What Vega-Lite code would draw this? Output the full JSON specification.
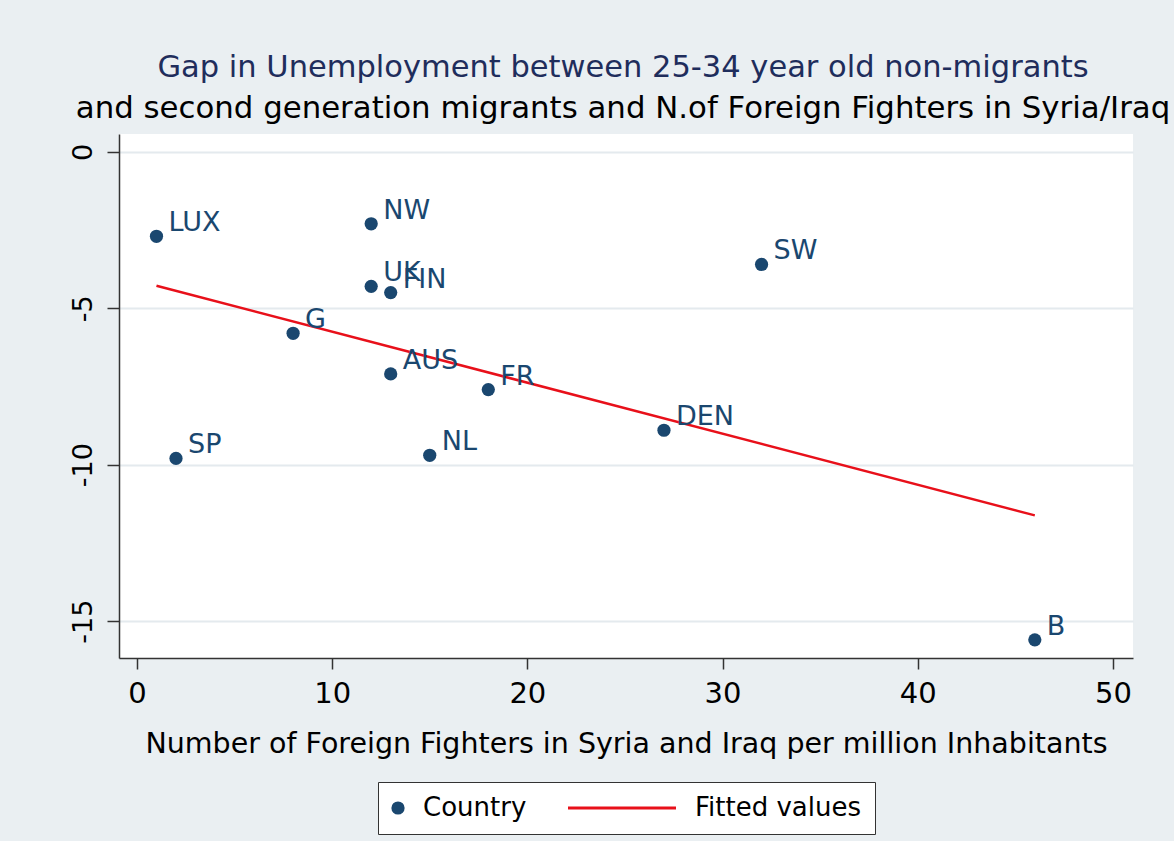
{
  "$schema": "https://vega.github.io/schema/vega-lite/v6.json",
  "width": 1014,
  "height": 524,
  "autosize": {"type": "none"},
  "padding": {"left": 119, "top": 134, "right": 41, "bottom": 183},
  "background": "#eaeff2",
  "title": {
    "text": "Gap in Unemployment between 25-34 year old non-migrants",
    "subtitle": "and second generation migrants and N.of Foreign Fighters in Syria/Iraq",
    "anchor": "middle",
    "frame": "group",
    "font": "DejaVu Sans",
    "fontSize": 30.5,
    "fontWeight": "normal",
    "color": "#1f2d5c",
    "subtitleFont": "DejaVu Sans",
    "subtitleFontSize": 30.8,
    "subtitleColor": "#000000",
    "subtitlePadding": 11,
    "offset": 10,
    "dx": -3
  },
  "config": {
    "view": {"fill": "white", "stroke": null},
    "font": "DejaVu Sans",
    "legend": {
      "orient": "none",
      "legendX": 259,
      "legendY": 648,
      "direction": "horizontal",
      "labelFont": "DejaVu Sans",
      "labelFontSize": 26,
      "labelColor": "#000000",
      "labelLimit": 400,
      "fillColor": "white",
      "strokeColor": "#333333",
      "padding": 13,
      "columnPadding": 35,
      "labelOffset": 12,
      "symbolSize": 175,
      "symbolStrokeWidth": 3,
      "symbolOpacity": 1
    }
  },
  "datasets": {
    "countries": [
      {"country": "LUX", "fighters": 1, "gap": -2.7, "series": "Country"},
      {"country": "NW", "fighters": 12, "gap": -2.3, "series": "Country"},
      {"country": "UK", "fighters": 12, "gap": -4.3, "series": "Country"},
      {"country": "FIN", "fighters": 13, "gap": -4.5, "series": "Country"},
      {"country": "SW", "fighters": 32, "gap": -3.6, "series": "Country"},
      {"country": "G", "fighters": 8, "gap": -5.8, "series": "Country"},
      {"country": "AUS", "fighters": 13, "gap": -7.1, "series": "Country"},
      {"country": "FR", "fighters": 18, "gap": -7.6, "series": "Country"},
      {"country": "DEN", "fighters": 27, "gap": -8.9, "series": "Country"},
      {"country": "SP", "fighters": 2, "gap": -9.8, "series": "Country"},
      {"country": "NL", "fighters": 15, "gap": -9.7, "series": "Country"},
      {"country": "B", "fighters": 46, "gap": -15.6, "series": "Country"}
    ],
    "fitted": [
      {"fighters": 1, "gap": -4.28, "series": "Fitted values"},
      {"fighters": 46, "gap": -11.62, "series": "Fitted values"}
    ]
  },
  "encoding": {
    "x": {
      "field": "fighters",
      "type": "quantitative",
      "scale": {"domain": [-0.92, 51.03], "nice": false, "zero": false},
      "axis": {
        "title": "Number of Foreign Fighters in Syria and Iraq per million Inhabitants",
        "values": [0, 10, 20, 30, 40, 50],
        "grid": false,
        "tickSize": 11,
        "tickColor": "#333333",
        "tickWidth": 1.5,
        "domainColor": "#333333",
        "domainWidth": 1.5,
        "labelFont": "DejaVu Sans",
        "labelFontSize": 29,
        "labelColor": "#000000",
        "labelPadding": 10,
        "labelFlush": false,
        "titleFont": "DejaVu Sans",
        "titleFontSize": 28.5,
        "titleFontWeight": "normal",
        "titleColor": "#000000",
        "titlePadding": 21
      }
    },
    "y": {
      "field": "gap",
      "type": "quantitative",
      "scale": {"domain": [-16.18, 0.57], "nice": false, "zero": false},
      "axis": {
        "title": null,
        "values": [0, -5, -10, -15],
        "labelExpr": "replace(datum.label, '\u2212', '-')",
        "grid": true,
        "gridColor": "#e4eaee",
        "gridWidth": 2,
        "tickSize": 12,
        "tickColor": "#333333",
        "tickWidth": 1.5,
        "domainColor": "#333333",
        "domainWidth": 1.5,
        "labelAngle": -90,
        "labelAlign": "center",
        "labelBaseline": "alphabetic",
        "labelFont": "DejaVu Sans",
        "labelFontSize": 27,
        "labelColor": "#000000",
        "labelPadding": 16
      }
    }
  },
  "layer": [
    {
      "data": {"name": "fitted"},
      "mark": {"type": "line", "strokeWidth": 2.5},
      "encoding": {
        "stroke": {
          "field": "series",
          "type": "nominal",
          "scale": {"domain": ["Country", "Fitted values"], "range": ["transparent", "#e8101a"]},
          "legend": {
            "title": null,
            "encode": {
              "symbols": {"update": {
                "size": {"signal": "datum.value === 'Fitted values' ? 11664 : 175"},
                "x": {"signal": "datum.value === 'Fitted values' ? 54 : 7"}
              }},
              "labels": {"update": {
                "x": {"signal": "datum.value === 'Fitted values' ? 127 : 32"}
              }}
            }
          }
        }
      }
    },
    {
      "data": {"name": "countries"},
      "mark": {"type": "point", "filled": true, "opacity": 1, "size": 175},
      "encoding": {
        "fill": {
          "field": "series",
          "type": "nominal",
          "scale": {"domain": ["Country", "Fitted values"], "range": ["#1a476f", "transparent"]},
          "legend": {
            "title": null,
            "encode": {
              "symbols": {"update": {
                "size": {"signal": "datum.value === 'Fitted values' ? 11664 : 175"},
                "x": {"signal": "datum.value === 'Fitted values' ? 54 : 7"}
              }},
              "labels": {"update": {
                "x": {"signal": "datum.value === 'Fitted values' ? 127 : 32"}
              }}
            }
          }
        },
        "shape": {
          "field": "series",
          "type": "nominal",
          "scale": {"domain": ["Country", "Fitted values"], "range": ["circle", "stroke"]},
          "legend": {
            "title": null,
            "encode": {
              "symbols": {"update": {
                "size": {"signal": "datum.value === 'Fitted values' ? 11664 : 175"},
                "x": {"signal": "datum.value === 'Fitted values' ? 54 : 7"}
              }},
              "labels": {"update": {
                "x": {"signal": "datum.value === 'Fitted values' ? 127 : 32"}
              }}
            }
          }
        }
      }
    },
    {
      "data": {"name": "countries"},
      "mark": {"type": "text", "align": "left", "baseline": "alphabetic", "dx": 12, "dy": -5, "font": "DejaVu Sans", "fontSize": 27, "color": "#1a476f"},
      "encoding": {
        "text": {"field": "country", "type": "nominal"}
      }
    }
  ]
}
